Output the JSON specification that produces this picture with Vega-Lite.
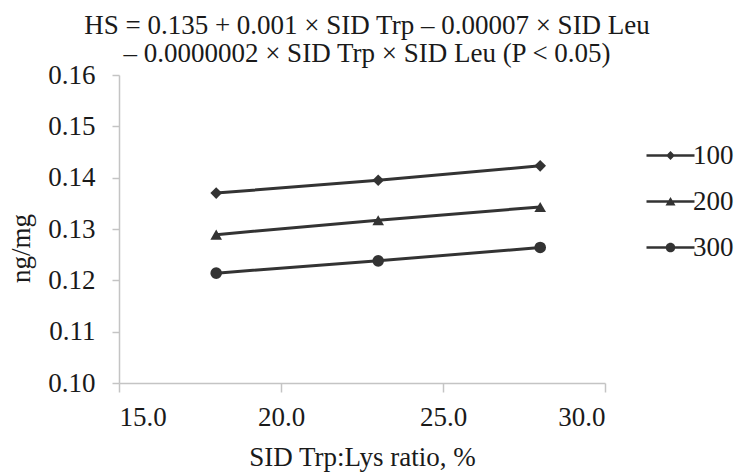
{
  "$schema": "https://vega.github.io/schema/vega-lite/v6.json",
  "width": 486,
  "height": 308,
  "autosize": "none",
  "padding": {"left": 119, "top": 75, "right": 145, "bottom": 89},
  "background": "white",
  "config": {
    "view": {"stroke": null},
    "font": "Liberation Serif",
    "axis": {"grid": false, "domainColor": "#c4c4c4", "tickColor": "#c4c4c4", "domainWidth": 1.5, "tickWidth": 1.5, "labelFont": "Liberation Serif", "labelFontSize": 27, "labelColor": "#1a1a1a", "titleFont": "Liberation Serif", "titleFontSize": 27, "titleFontWeight": "normal", "titleColor": "#1a1a1a"},
    "legend": {"labelFont": "Liberation Serif"}
  },
  "title": {
    "text": ["HS = 0.135 + 0.001 × SID Trp – 0.00007 × SID Leu", "– 0.0000002 × SID Trp × SID Leu (P < 0.05)"],
    "font": "Liberation Serif",
    "fontSize": 27,
    "fontWeight": "normal",
    "color": "#1a1a1a",
    "lineHeight": 28,
    "anchor": "middle",
    "dx": 5,
    "dy": 7,
    "offset": 0
  },
  "data": {
    "values": [
      {"trp": 18, "leu": "100", "hs": 0.1370},
      {"trp": 23, "leu": "100", "hs": 0.1395},
      {"trp": 28, "leu": "100", "hs": 0.1423},
      {"trp": 18, "leu": "200", "hs": 0.1289},
      {"trp": 23, "leu": "200", "hs": 0.1317},
      {"trp": 28, "leu": "200", "hs": 0.1343},
      {"trp": 18, "leu": "300", "hs": 0.1214},
      {"trp": 23, "leu": "300", "hs": 0.1238},
      {"trp": 28, "leu": "300", "hs": 0.1264}
    ]
  },
  "encoding": {
    "x": {"field": "trp", "type": "quantitative", "scale": {"domain": [15, 30], "nice": false, "zero": false},
      "axis": {"values": [15, 20, 25, 30], "format": ".1f", "title": "SID Trp:Lys ratio, %", "tickSize": 9, "labelPadding": 12, "titlePadding": 14, "labelFont": "Liberation Serif", "titleFont": "Liberation Serif"}},
    "y": {"field": "hs", "type": "quantitative", "scale": {"domain": [0.10, 0.16], "nice": false, "zero": false},
      "axis": {"values": [0.10, 0.11, 0.12, 0.13, 0.14, 0.15, 0.16], "format": ".2f", "title": "ng/mg", "tickSize": 7, "labelPadding": 17, "titlePadding": 12, "titleY": 173, "labelFont": "Liberation Serif", "titleFont": "Liberation Serif"}}
  },
  "layer": [
    {
      "mark": {"type": "line", "color": "#333333", "strokeWidth": 3},
      "encoding": {"detail": {"field": "leu", "type": "nominal"}}
    },
    {
      "mark": {"type": "point", "filled": true, "color": "#333333", "opacity": 1, "size": 135},
      "encoding": {"shape": {"field": "leu", "type": "nominal", "scale": {"domain": ["100", "200", "300"], "range": ["diamond", "triangle-up", "circle"]}, "legend": null}}
    },
    {
      "mark": {"type": "point", "filled": true, "color": "#333333", "opacity": 0, "size": 64},
      "encoding": {"shape": {"field": "leu", "type": "nominal", "title": null,
        "scale": {"domain": ["100", "200", "300"], "range": ["M-6,-0.33L6,-0.33L6,0.33L-6,0.33ZM-1.1,0L0,-1.1L1.1,0L0,1.1Z", "M-6,-0.33L6,-0.33L6,0.33L-6,0.33ZM-1.25,1L0,-1.1L1.25,1Z", "M-6,-0.33L6,-0.33L6,0.33L-6,0.33ZM-1.2,0A1.2,1.2 0 1,1 1.2,0A1.2,1.2 0 1,1 -1.2,0Z"]},
        "legend": {"orient": "none", "legendX": 538, "legendY": 67, "padding": 0, "symbolSize": 64, "labelOffset": 9, "labelFont": "Liberation Serif", "labelFontSize": 27, "labelColor": "#1a1a1a", "rowPadding": 18,
          "encode": {"symbols": {"update": {"fill": {"value": "#333333"}, "stroke": {"value": "#333333"}, "strokeWidth": {"value": 0.5}, "opacity": {"value": 1}, "fillOpacity": {"value": 1}, "strokeOpacity": {"value": 1}}}}}}}
    }
  ],
  "resolve": {"scale": {"shape": "independent"}, "legend": {"shape": "independent"}}
}
